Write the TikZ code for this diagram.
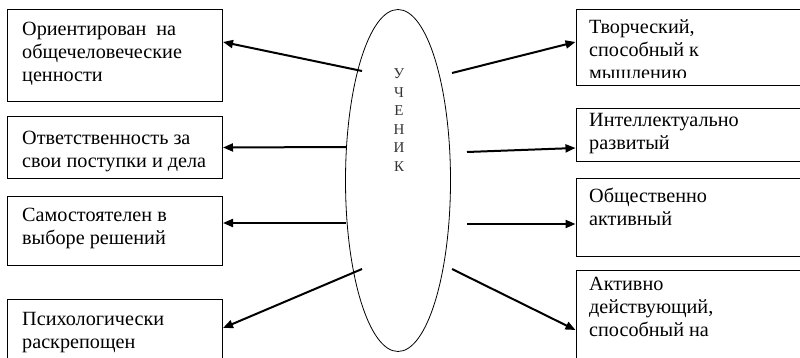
\documentclass[tikz,border=0pt]{standalone}
\usepackage{fontspec}
\setmainfont{Liberation Serif}
\usetikzlibrary{arrows.meta,calc,shapes.geometric}
\newcommand{\boxfont}{\fontsize{20.2}{23}\selectfont}
\begin{document}
\begin{tikzpicture}[x=1pt,y=-1pt,
  box/.style={draw=black,line width=1pt,rectangle,inner sep=0pt,anchor=north west},
  txt/.style={inner sep=0pt,anchor=base west,font=\boxfont},
  arr/.style={line width=2pt,-{Triangle[length=10pt,width=8pt]}},
  oval/.style={draw=black,line width=0.8pt,ellipse,inner sep=0pt,minimum width=105pt,minimum height=342pt}]
\useasboundingbox (0,0) rectangle (800,358);
\fill[white] (0,0) rectangle (800,358);
\clip (0,0) rectangle (800,358);
% central ellipse
\node[oval] (u) at (398,180.5) {};
\node[inner sep=0pt,anchor=base,font=\fontsize{15}{18.5}\selectfont,text=black!80] (ut) at (399,79)
  {\parbox[t]{20pt}{\centering У\\Ч\\Е\\Н\\И\\К}};
% left boxes
\node[box,minimum width=215pt,minimum height=92pt] (l1) at (7,9) {};
\node[txt] (l1t) at (22,36) {\parbox[t]{195pt}{Ориентирован\ \ на\\общечеловеческие\\ценности}};
\node[box,minimum width=215pt,minimum height=62pt] (l2) at (7,116) {};
\node[txt] (l2t) at (22,145) {\parbox[t]{195pt}{Ответственность за\\свои поступки и дела}};
\node[box,minimum width=215pt,minimum height=69pt] (l3) at (7,196) {};
\node[txt] (l3t) at (22,222) {\parbox[t]{195pt}{Самостоятелен в\\выборе решений}};
\node[box,minimum width=215pt,minimum height=80pt] (l4) at (7,299) {};
\node[txt] (l4t) at (22,325) {\parbox[t]{195pt}{Психологически\\раскрепощен}};
% right boxes
\node[box,minimum width=240pt,minimum height=76.5pt] (r1) at (575.5,9) {};
\begin{scope}
\clip (575,9) rectangle (800,78);
\node[txt] (r1t) at (589,34) {\parbox[t]{200pt}{Творческий,\\способный к\\мышлению}};
\end{scope}
\node[box,minimum width=240pt,minimum height=53.5pt] (r2) at (575.5,108) {};
\node[txt] (r2t) at (589,127) {\parbox[t]{200pt}{Интеллектуально\\развитый}};
\node[box,minimum width=240pt,minimum height=78pt] (r3) at (575.5,178) {};
\node[txt] (r3t) at (589,203) {\parbox[t]{200pt}{Общественно\\активный}};
\node[box,minimum width=240pt,minimum height=100pt] (r4) at (575.5,270) {};
\node[txt] (r4t) at (589,290) {\parbox[t]{200pt}{Активно\\действующий,\\способный на}};
% arrow start points
\coordinate (s1) at (362,71);
\coordinate (s2) at (346,147);
\coordinate (s3) at (346,223);
\coordinate (s4) at (362,269);
\coordinate (s5) at (452,73);
\coordinate (s6) at (467,152);
\coordinate (s7) at (467,224);
\coordinate (s8) at (452,269);
% arrows
\draw[arr] (s1) -- ($(l1.north east)+(0,33)$);
\draw[arr] (s2) -- (l2.east);
\draw[arr] (s3) -- ($(l3.north east)+(0,27)$);
\draw[arr] (s4) -- ($(l4.north east)+(0,29)$);
\draw[arr] (s5) -- ($(r1.north west)+(0,33)$);
\draw[arr] (s6) -- ($(r2.north west)+(0,40)$);
\draw[arr] (s7) -- ($(r3.north west)+(0,46)$);
\draw[arr] (s8) -- ($(r4.north west)+(0,60)$);
\end{tikzpicture}
\end{document}
